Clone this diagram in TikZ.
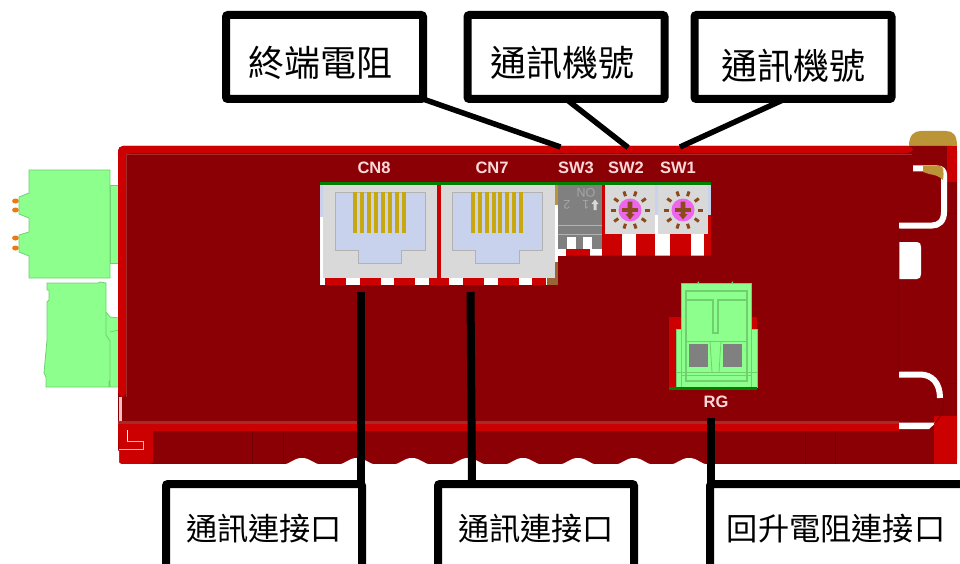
\documentclass[tikz,border=0pt]{standalone}
\usepackage{fontspec}
\setsansfont{Liberation Sans}
\newfontfamily\cjkfont{Noto Sans CJK TC}
\definecolor{bodydark}{HTML}{8B0005}
\definecolor{bodybright}{HTML}{CC0000}
\definecolor{bodyline}{HTML}{A52A2A}
\definecolor{boardgreen}{HTML}{007F00}
\definecolor{plugface}{HTML}{8CFF8C}
\definecolor{plugline}{HTML}{70D070}
\definecolor{pinorange}{HTML}{F07810}
\definecolor{capgold}{HTML}{BC9438}
\definecolor{pingold}{HTML}{C8A80F}
\definecolor{socketgrey}{HTML}{D9D9D9}
\definecolor{socketblue}{HTML}{C8D2EC}
\definecolor{swgrey}{HTML}{808080}
\definecolor{rotmagenta}{HTML}{EE66EE}
\definecolor{rotbrown}{HTML}{8B4A1E}
\tikzset{
	callbox/.style={draw=black,line width=8,fill=white,rounded corners=2,inner sep=0,outer sep=0},
	calltop/.style={callbox,minimum width=197,minimum height=84},
	callbot/.style={callbox,minimum height=84},
	calltexttop/.style={inner sep=0,text=black,font=\cjkfont\fontsize{36}{36}\selectfont},
	calltextbot/.style={inner sep=0,text=black,font=\cjkfont\fontsize{31.2}{32}\selectfont},
	callline/.style={line width=5.5},
	callstem/.style={line width=8},
	partlabel/.style={text=white!85!red,font=\sffamily\bfseries\fontsize{16.5}{17}\selectfont,inner sep=0},
	swmark/.style={text=white!65!black,font=\sffamily\fontsize{12.5}{13}\selectfont,inner sep=0,rotate=180},
	plugedge/.style={draw=plugline,line width=0.8,fill=plugface},
	plugthin/.style={draw=plugline,line width=1.2}
}
% One RJ45 socket, left edge of the grey face at #1
\newcommand{\rjsocket}[1]{
	\fill[socketgrey] (#1,185) rectangle ++(114,93);
	\draw[fill=socketblue,draw=white!70!black,line width=0.8] (#1+12,192) -- ++(90,0) -- ++(0,58) -- ++(-23.3,0)
		-- ++(0,13) -- ++(-43.4,0) -- ++(0,-13) -- ++(-23.3,0) -- cycle;
	\foreach \k in {0,...,7}
		\fill[pingold] (#1+30.3+\k*6.9,192) rectangle ++(4,41);
}
% One rotary switch centred at (#1,210)
\newcommand{\rotswitch}[1]{
	\fill[socketgrey] (#1-25,185) rectangle (#1+25,234);
	\foreach \a in {0,36,...,324}
		\draw[rotbrown,line width=3] (#1,210) ++(\a:14.5) -- ++(\a:5);
	\fill[rotmagenta] (#1,210) circle (11.5);
	\fill[rotbrown] (#1-8,207.8) rectangle (#1+8,212.2);
	\fill[rotbrown] (#1-2.3,201.5) -- (#1+2.3,201.5) -- (#1+2.3,214) -- (#1+4.5,214) -- (#1,219.5) -- (#1-4.5,214) -- (#1-2.3,214) -- cycle;
}
\begin{document}
\begin{tikzpicture}[x=1pt,y=-1pt]
	\useasboundingbox (0,0) rectangle (960,564);
	\clip (0,0) rectangle (960,564);
	\fill[white] (0,0) rectangle (960,564);
	% Left plugs
	\foreach \py in {201,210,238,248}
		\fill[pinorange] (15.5,\py) ellipse (3.4 and 2.5);
	\draw[plugedge] (110,185) rectangle (119,263);
	\draw[plugedge] (29,170) -- (110,170) -- (110,278) -- (29,278) -- (29,256) -- (19,252) -- (19,235) -- (29,232)
		-- (29,218) -- (19,214) -- (19,197) -- (29,193) -- cycle;
	\draw[plugedge] (47,283) -- (98,283) -- (100,282) -- (106,283) -- (106,312) -- (110,317) -- (119,318) -- (119,387)
		-- (110,387) -- (110,381) -- (109,381) -- (109,387) -- (46,387) -- (46,377) -- (44,373) -- (47,340) -- (47,302) -- (49,300)
		-- (49,290) -- (47,290) -- cycle;
	\draw[plugthin,line width=0.7] (106,312) -- (106,335) -- (110,341) -- (110,381) (110,332) -- (119,330);
	% Housing
	\fill[capgold] (909,146) .. controls (909,135) and (914,131) .. (921,131) -- (946,131)
		.. controls (953,131) and (957,135) .. (957,146) -- cycle;
	\fill[bodydark,rounded corners=5] (118,146) rectangle (957,464);
	\fill[bodybright,rounded corners=5] (118,146) -- (913,146) -- (913,153) -- (126,153) -- (126,397) -- (118,397) -- cycle;
	\draw[bodyline,line width=0.8] (126,154) -- (912,154) (126,154) -- (126,397);
	\fill[bodybright] (947,146) -- (957,146) -- (957,182) -- (947,182) -- cycle;
	\fill[white!75!red] (119,397) rectangle (121.5,421);
	% Bottom band
	\fill[bodyline] (118,421) rectangle (899,424);
	\fill[bodybright] (118,424) rectangle (899,431);
	\fill[bodybright,rounded corners=3] (118,424) -- (153,424) -- (153,464) -- (119,464) -- (118,424);
	\fill[white] (116,449) -- (119,451) -- (119,464) -- (116,464) -- cycle;
	\draw[white!70!red,line width=0.6] (127,441) -- (143,441) -- (143,449) -- (119,449);
	\draw[white,line width=1.6] (127.5,430) -- (127.5,441);
	\draw[bodydark!80!black,line width=0.7] (252,431) -- (252,464) (283,431) -- (283,464) (805,431) -- (805,464) (835,431) -- (835,464);
	\fill[white] (116,464) rectangle (960,470);
	\foreach \bx in {302,357,412,468,523,578,634,689}
		\fill[white] (\bx-19,464.5) .. controls (\bx-11,464) and (\bx-9,458) .. (\bx,458)
			.. controls (\bx+9,458) and (\bx+11,464) .. (\bx+19,464.5) -- cycle;
	% Right side
	\fill[bodybright] (934,416) rectangle (957,463.5);
	\fill[white] (899,242) -- (917,242) .. controls (920,242) and (921,244) .. (921,247) -- (921,274)
		.. controls (921,277) and (920,279) .. (917,279) -- (899,279) -- cycle;
	\draw[white,line width=6] (913,168.5) -- (937,168.5) .. controls (942,168.5) and (944,171) .. (944,175)
		-- (944,212) .. controls (944,221) and (939,225.5) .. (932,225.5) -- (899,225.5);
	\fill[capgold] (923,166) -- (940,166) .. controls (944,166) and (944,172) .. (943,180) .. controls (939,176) and (935,175) .. (929,174) -- (923,172) -- cycle;
	\draw[white,line width=6] (899,374.5) -- (920,374.5) .. controls (932,374.5) and (940,383) .. (940,398);
	\fill[white] (899,422.5) -- (936,422.5) -- (929,429) -- (899,429) -- cycle;
	\draw[bodydark!85!black,line width=0.7] (899,228) -- (899,372) (943,398) .. controls (944,410) and (941,418) .. (934,424);
	\draw[bodydark!85!black,line width=0.5] (947,213) -- (957,213) (943,383) -- (957,383);
	% Board, CN8 and CN7
	\fill[white] (320,185) rectangle (558,285);
	\fill[socketblue] (320,185) rectangle (323,217);
	\fill[bodybright] (437,185) rectangle (441,278);
	\fill[bodybright] (325,278) rectangle (546,285);
	\foreach \wx in {346,380.5,415,449,484,518.5}
		\fill[white] (\wx,278) rectangle ++(13.7,7);
	\fill[brown!80!black] (547,262) rectangle (558,285);
	\rjsocket{323}
	\rjsocket{440.5}
	\fill[capgold] (555,185) rectangle (558,205);
	% SW3, SW2 and SW1
	\fill[bodybright] (558,185) rectangle (711,255.5);
	\fill[swgrey] (558,185) rectangle (602,249);
	\draw[white!70!black,line width=0.8] (558,225) -- (602,225) (558,234) -- (602,234);
	\foreach \wx in {567,583}
		\fill[white] (\wx,237) rectangle ++(9,12);
	\fill[white] (602,249) rectangle (590,255.5);
	\fill[white] (558,249) rectangle (566,255.5);
	\node[swmark] (swon) at (586,193) {ON};
	\node[swmark] (swtwo) at (567,205) {2};
	\node[swmark] (swone) at (586,205) {1};
	\fill[white!85!black] (595,199.5) -- (598.5,204) -- (596.5,204) -- (596.5,210) -- (593.5,210) -- (593.5,204) -- (591.5,204) -- cycle;
	\fill[socketblue] (655,185) rectangle (658,215);
	\fill[socketblue] (708,185) rectangle (711,215);
	\fill[white] (655,215) rectangle (670,255.5);
	\fill[white] (622,234) rectangle (636,255.5);
	\fill[white] (691,234) rectangle (704,255.5);
	\rotswitch{630}
	\rotswitch{683}
	\fill[boardgreen] (320,182) rectangle (711,185);
	% Cut-out corner of the board
	\fill[bodydark] (558,285) -- (558,264) .. controls (558,259) and (562,256) .. (568,255.5) -- (712,255.5) -- (712,290) -- (558,290) -- cycle;
	% RG plug
	\fill[bodybright] (669,317) rectangle (757,388);
	\draw[plugedge] (676,329) rectangle (757,387);
	\draw[plugedge] (681,283) rectangle (751,387);
	\fill[boardgreen] (669,387) rectangle (757,390);
	\draw[plugthin] (686,291) rectangle (747,381);
	\draw[plugthin] (686,300) -- (713,300) -- (713,333) -- (718,333) -- (718,300) -- (747,300);
	\draw[plugthin,line width=0.8] (676,372) -- (757,372) (681,375) -- (751,375) (686,341) -- (747,341);
	\draw[plugthin,line width=0.8] (710,341) -- (712,372) (721,341) -- (719,372);
	\fill[swgrey] (689,344) rectangle (708,367);
	\fill[swgrey] (723,344) rectangle (742,367);
	\fill[plugline] (697.5,281.5) rectangle (699,283) (731.5,281.5) rectangle (733,283);
	% Part labels
	\node[partlabel] (cneight) at (374,168) {CN8};
	\node[partlabel] (cnseven) at (492,168) {CN7};
	\node[partlabel] (swthree) at (576,168) {SW3};
	\node[partlabel] (swtwolab) at (626,168) {SW2};
	\node[partlabel] (swonelab) at (678,168) {SW1};
	\node[partlabel] (rglab) at (716,402) {RG};
	% Connector ends
	\coordinate (endterm) at (560.5,147);
	\coordinate (endnuma) at (628,147.5);
	\coordinate (endnumb) at (680,147);
	\coordinate (endcna) at (361,292);
	\coordinate (endcnb) at (470.5,292);
	\coordinate (endrg) at (711,418);
	% Callouts
	\node[calltop] (term) at (324.5,57) {};
	\node[calltop] (numa) at (566,57) {};
	\node[calltop] (numb) at (793,57) {};
	\node[callbot,minimum width=196] (conna) at (264,526) {};
	\node[callbot,minimum width=196] (connb) at (536,526) {};
	\node[callbot,minimum width=300,anchor=west] (connc) at (710,526) {};
	\node[calltexttop] (termtext) at (320,63) {終端電阻};
	\node[calltexttop] (numatext) at (562,63) {通訊機號};
	\node[calltexttop] (numbtext) at (793,66) {通訊機號};
	\node[calltextbot] (connatext) at (264,529) {通訊連接口};
	\node[calltextbot] (connbtext) at (536,529) {通訊連接口};
	\node[calltextbot] (connctext) at (836,529) {回升電阻連接口};
	\draw[callline] (term.south east) -- (endterm);
	\draw[callline] (numa.south) -- (endnuma);
	\draw[callline] ([xshift=-8]numb.south) -- (endnumb);
	\draw[callstem] (endcna) -- (endcna |- conna.north);
	\draw[callstem] (endcnb) -- (connb.north -| 472,0);
	\draw[callstem] (endrg) -- (endrg |- connc.north);
\end{tikzpicture}
\end{document}
